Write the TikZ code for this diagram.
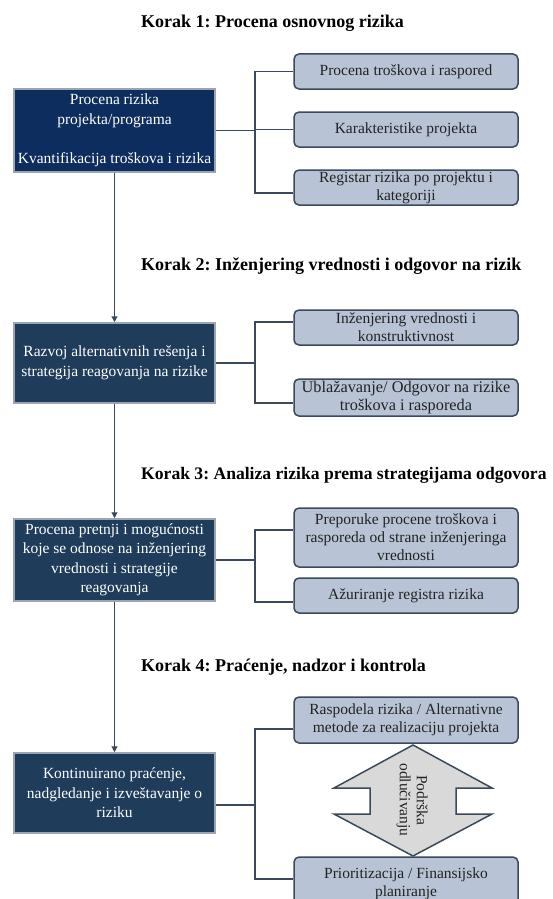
\documentclass[tikz,border=0pt]{standalone}
\usepackage{fontspec}
\setmainfont{Liberation Serif}
\usetikzlibrary{arrows.meta,calc}
\definecolor{navyA}{HTML}{0C2D5E}
\definecolor{navyB}{HTML}{1F3C5A}
\definecolor{boxedge}{HTML}{9AA5B1}
\definecolor{lightfill}{HTML}{B8C4D6}
\definecolor{lineC}{HTML}{3B4A5A}
\definecolor{grayfill}{HTML}{D9D9D9}
\definecolor{txt}{HTML}{222222}
\frenchspacing
\begin{document}
\begin{tikzpicture}[x=1pt,y=-1pt,
 darkbox/.style={draw=boxedge, line width=1.5pt, fill=navyB, text=white, minimum width=201pt, inner sep=0pt, align=center, font=\fontsize{15.5}{19.5}\selectfont},
 litebox/.style={draw=lineC, line width=1.5pt, fill=lightfill, rounded corners=5pt, text=txt, minimum width=224pt, inner sep=0pt, align=center, font=\fontsize{15.5}{18}\selectfont},
 titletext/.style={anchor=west, font=\fontsize{18}{21}\selectfont\bfseries, inner sep=0pt},
 conn/.style={draw=lineC, line width=1.8pt},
 flow/.style={draw=lineC, line width=1.2pt, -{Triangle[width=6pt,length=6pt]}},
 dblarrow/.style={draw=lineC, line width=1.5pt, fill=grayfill, line join=miter},
]
\useasboundingbox (0,0) rectangle (553,899);
\clip (0,0) rectangle (553,899);
\fill[white] (0,0) rectangle (553,899);

% titles
\node[titletext] (t1) at (141,23) {Korak 1: Procena osnovnog rizika};
\node[titletext] (t2) at (141,266) {Korak 2: Inženjering vrednosti i odgovor na rizik};
\node[titletext, font=\fontsize{17.6}{21}\selectfont\bfseries] (t3) at (141,475) {Korak 3: Analiza rizika prema strategijama odgovora};
\node[titletext] (t4) at (141,667) {Korak 4: Praćenje, nadzor i kontrola};

% left dark boxes
\node[darkbox, fill=navyA, minimum height=83pt] (b1) at (114.5,130.5)
  {Procena rizika\\projekta/programa\\[19.5pt]Kvantifikacija troškova i rizika};
\node[darkbox, minimum height=80pt] (b2) at (114.5,363)
  {Razvoj alternativnih rešenja i\\strategija reagovanja na rizike};
\node[darkbox, minimum height=82pt] (b3) at (114.5,560)
  {Procena pretnji i mogućnosti\\koje se odnose na inženjering\\vrednosti i strategije\\reagovanja};
\node[darkbox, minimum height=80pt] (b4) at (114.5,793)
  {Kontinuirano praćenje,\\nadgledanje i izveštavanje o\\riziku};

% right light boxes
\node[litebox, minimum height=35pt] (r1a) at (406,71.5) {Procena troškova i raspored};
\node[litebox, minimum height=35pt] (r1b) at (406,129.5) {Karakteristike projekta};
\node[litebox, minimum height=35pt] (r1c) at (406,187.5) {Registar rizika po projektu i\\kategoriji};

\node[litebox, minimum height=35pt] (r2a) at (406,327.5) {Inženjering vrednosti i\\konstruktivnost};
\node[litebox, minimum height=37pt, font=\fontsize{16.3}{18}\selectfont] (r2b) at (406,397.5) {Ublažavanje/ Odgovor na rizike\\troškova i rasporeda};

\node[litebox, minimum height=59pt] (r3a) at (406,537.5) {Preporuke procene troškova i\\rasporeda od strane inženjeringa\\vrednosti};
\node[litebox, minimum height=35pt] (r3b) at (406,595.5) {Ažuriranje registra rizika};

\node[litebox, minimum height=46pt] (r4a) at (406,720) {Raspodela rizika / Alternativne\\metode za realizaciju projekta};
\node[litebox, minimum height=54pt] (r4b) at (406,884) {Prioritizacija / Finansijsko\\planiranje};

% vertical flow arrows
\draw[flow] (b1.south) -- (b2.north);
\draw[flow] (b2.south) -- (b3.north);
\draw[flow] (b3.south) -- (b4.north);

% bus coordinates
\coordinate (u1) at (255,193);
\coordinate (p2) at (255,322);
\coordinate (u2) at (255,403);
\coordinate (p3) at (255,530);
\coordinate (u3) at (255,602);
\coordinate (p4) at (255,729);
\coordinate (u4) at (255,879);

% step 1 connectors
\draw[conn] (b1.east) -- (b1.east -| u1);
\draw[conn] (r1a.west) -| (u1) -- (u1 -| r1c.west);
\draw[conn] (r1b.west) -- (r1b.west -| u1);

% step 2 connectors
\draw[conn] (b2.east) -- (b2.east -| u2);
\draw[conn] (p2 -| r2a.west) -- (p2) -- (u2) -- (u2 -| r2b.west);

% step 3 connectors
\draw[conn] (b3.east) -- (b3.east -| u3);
\draw[conn] (p3 -| r3a.west) -- (p3) -- (u3) -- (u3 -| r3b.west);

% step 4 connectors
\draw[conn] (b4.east |- 0,805) -- (u4 |- 0,805);
\draw[conn] (p4 -| r4a.west) -- (p4) -- (u4) -- (u4 -| r4b.west);

% decision support double arrow
\draw[dblarrow] (413,745) -- (492,788) -- (456,788) -- (456,814) -- (492,814)
  -- (413,856) -- (334,814) -- (370,814) -- (370,788) -- (334,788) -- cycle;
\node[rotate=-90, align=center, inner sep=0pt, text=txt,
  font=\fontsize{15.5}{17}\selectfont] (ds) at (412,800) {Podrška\\odlučivanju};
\end{tikzpicture}
\end{document}
